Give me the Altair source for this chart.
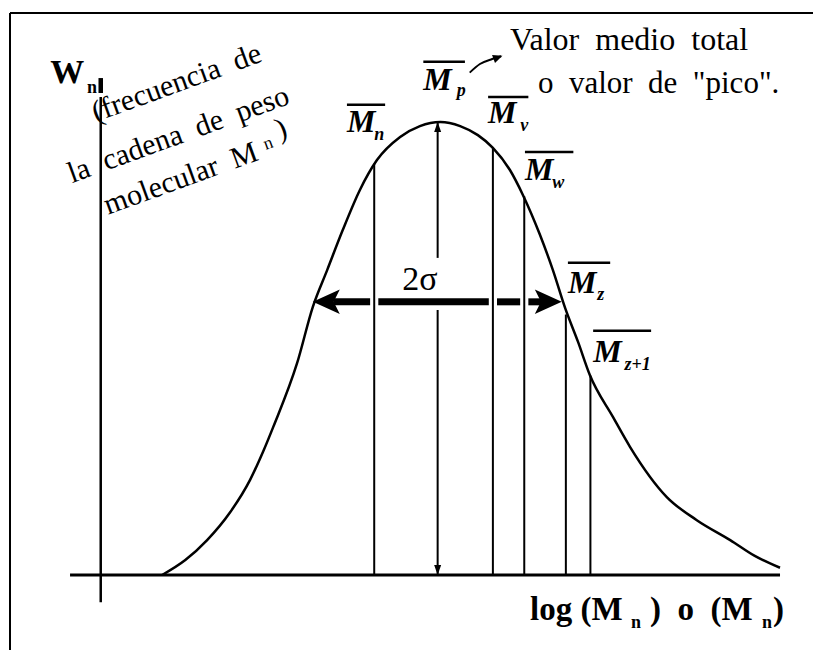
import altair as alt
import pandas as pd

# Weight-fraction distribution W_n against log(M_n); peak normalised to 100
log_m = [0.94, 1.28, 1.60, 1.94, 2.23, 2.42, 2.57, 2.92, 3.15, 3.36,
         3.59, 3.84, 4.09, 4.43, 4.72, 5.02, 5.31, 5.57, 5.79, 6.04,
         6.23, 6.48, 6.67, 6.85, 7.04, 7.21, 7.55, 7.80, 8.34, 8.78,
         9.27, 9.63, 10.00]
w_frac = [0.0, 3.3, 7.7, 13.9, 21.0, 27.2, 32.7, 46.8, 59.2, 67.3,
          76.2, 85.0, 91.6, 96.7, 99.1, 100.0, 99.1, 97.1, 94.3, 89.4,
          83.9, 75.1, 67.3, 58.9, 51.4, 44.2, 34.9, 28.3, 17.2, 12.1,
          7.7, 4.2, 1.6]

# Molecular-weight averages: position on the log(M) axis and curve height there
avg_names = ["Mn", "Mp", "Mv", "Mw", "Mz", "Mz+1"]
avg_x = [4.05, 4.98, 5.79, 6.25, 6.86, 7.22]
avg_w = [90.8, 100.0, 94.3, 83.6, 57.5, 44.0]

# Labels of the averages: bold italic M, subscript, overline
lab_sub = ["n", "p", "v", "w", "z", "z+1"]
lab_x = [3.65, 4.77, 5.72, 6.26, 6.89, 7.26]
lab_w = [97.8, 107.1, 99.8, 87.2, 62.3, 47.0]
sub_x = [4.05, 5.26, 6.19, 6.66, 7.32, 7.72]
sub_w = [96.0, 105.7, 98.0, 85.4, 60.7, 45.3]
bar_x2 = [4.21, 5.38, 6.31, 6.97, 7.51, 8.11]
bar_w = [103.8, 113.3, 105.5, 93.4, 68.9, 53.9]

# 2-sigma spread of the distribution
sigma_left, sigma_right, sigma_w = 3.15, 6.80, 60.3
# the Mp line is interrupted around the 2-sigma label
mp_gap = (58.5, 70.0)

# Axes of the diagram
x_axis_from, x_axis_to = -0.41, 10.0
y_axis_x, y_axis_from, y_axis_to = 0.04, -6.0, 109.7

FONT = "Liberation Serif"
NB = "\u00a0"

X = alt.Scale(domain=[-1.437, 10.513], nice=False, zero=False)
Y = alt.Scale(domain=[-16.56, 126.93], nice=False, zero=False)


def xq(f):
    return alt.X(f, type="quantitative", scale=X, axis=None)


def yq(f):
    return alt.Y(f, type="quantitative", scale=Y, axis=None)


# distribution curve
curve = alt.Chart(pd.DataFrame({"x": log_m, "w": w_frac})).mark_line(
    color="black", strokeWidth=2.5, interpolate="monotone"
).encode(x=xq("x"), y=yq("w"))

# vertical lines at each average (Mp drawn in two pieces)
seg_rows = []
for name, x, w in zip(avg_names, avg_x, avg_w):
    if name == "Mp":
        seg_rows.append({"x": x, "y": 0.0, "y2": mp_gap[0]})
        seg_rows.append({"x": x, "y": mp_gap[1], "y2": w})
    else:
        seg_rows.append({"x": x, "y": 0.0, "y2": w})
avg_lines = alt.Chart(pd.DataFrame(seg_rows)).mark_rule(
    color="black", strokeWidth=2
).encode(x=xq("x"), y=yq("y"), y2="y2")

# axes
x_axis = alt.Chart(pd.DataFrame({"x": [x_axis_from], "x2": [x_axis_to], "y": [0.0]})).mark_rule(
    color="black", strokeWidth=3
).encode(x=xq("x"), x2="x2", y=yq("y"))
y_axis = alt.Chart(pd.DataFrame({"x": [y_axis_x, y_axis_x], "y": [y_axis_from, 106.4],
                                 "y2": [105.5, y_axis_to], "sw": [2.5, 4.5]})).mark_rule(
    color="black"
).encode(x=xq("x"), y=yq("y"), y2="y2", strokeWidth=alt.StrokeWidth("sw:Q", scale=None))

# 2-sigma double arrow: shaft broken where it crosses Mn, Mv and Mw
head_len = 0.30
breaks = sorted([avg_x[0], avg_x[2], avg_x[3]])
shaft_rows = []
start = sigma_left + head_len
for b in breaks:
    shaft_rows.append({"x": start, "x2": b - 0.06, "y": sigma_w})
    start = b + 0.06
shaft_rows.append({"x": start, "x2": sigma_right - head_len, "y": sigma_w})
shaft = alt.Chart(pd.DataFrame(shaft_rows)).mark_rule(
    color="black", strokeWidth=7
).encode(x=xq("x"), x2="x2", y=yq("y"))

# arrow heads (tip of each path sits at the data point)
heads = pd.DataFrame([
    {"x": sigma_left, "y": sigma_w, "shape": "M0,0 L2.2,-1 L1.7,0 L2.2,1 Z", "size": 600, "angle": 0},
    {"x": sigma_right, "y": sigma_w, "shape": "M0,0 L-2.2,-1 L-1.7,0 L-2.2,1 Z", "size": 600, "angle": 0},
    {"x": avg_x[1], "y": 0.0, "shape": "M0,0 L-0.7,-2 L0.7,-2 Z", "size": 100, "angle": 0},
    {"x": avg_x[1], "y": avg_w[1], "shape": "M0,0 L-0.7,2 L0.7,2 Z", "size": 100, "angle": 0},
    {"x": 5.93, "y": 114.6, "shape": "M0,0 L-2,-0.9 L-2,0.9 Z", "size": 90, "angle": 340},
])
arrow_heads = alt.Chart(heads).mark_point(filled=True, color="black", opacity=1, strokeWidth=0).encode(
    x=xq("x"), y=yq("y"),
    shape=alt.Shape("shape:N", scale=None),
    size=alt.Size("size:Q", scale=None),
    angle=alt.Angle("angle:Q", scale=None),
)

# curved pointer from Mp to its description
pointer = alt.Chart(pd.DataFrame({"x": [5.45, 5.60, 5.78, 5.91], "y": [110.9, 112.8, 113.9, 114.5]})).mark_line(
    color="black", strokeWidth=2, interpolate="monotone"
).encode(x=xq("x"), y=yq("y"))

# overlines of the average labels
overlines = alt.Chart(pd.DataFrame({"x": lab_x, "x2": bar_x2, "y": bar_w})).mark_rule(
    color="black", strokeWidth=2.5
).encode(x=xq("x"), x2="x2", y=yq("y"))


def text_layer(df, size, weight="normal", style="normal", angle=0):
    return alt.Chart(df).mark_text(
        font=FONT, fontSize=size, fontWeight=weight, fontStyle=style,
        align="left", baseline="alphabetic", angle=angle, color="black"
    ).encode(x=xq("x"), y=yq("y"), text=alt.Text("t:N"))


m_labels = text_layer(pd.DataFrame({"x": lab_x, "y": lab_w, "t": ["M"] * 6}), 32, "bold", "italic")
m_subs = text_layer(pd.DataFrame({"x": sub_x, "y": sub_w, "t": lab_sub}), 18, "bold", "italic")

line1 = text_layer(pd.DataFrame({
    "x": [6.04], "y": [115.9], "t": [f"Valor {NB}medio {NB}total"],
}), 32)
line2 = text_layer(pd.DataFrame({
    "x": [6.45], "y": [106.4], "t": [f"o {NB}valor {NB}de {NB}\"pico\"."],
}), 31)
sigma_text = text_layer(pd.DataFrame({"x": [4.46], "y": [62.9], "t": ["2σ"]}), 34)

w_title = text_layer(pd.DataFrame({"x": [-0.70], "y": [108.6], "t": ["W"]}), 34, "bold")
w_sub = text_layer(pd.DataFrame({"x": [-0.16], "y": [106.3], "t": ["n"]}), 18, "bold")

x_title = text_layer(pd.DataFrame({
    "x": [6.334, 8.094, 9.897],
    "y": [-9.93, -9.93, -9.93],
    "t": ["log (M", f") {NB}o {NB}(M", ")"],
}), 33, "bold")
x_subs = text_layer(pd.DataFrame({"x": [7.815, 9.736], "y": [-11.7, -11.7], "t": ["n", "n"]}), 18, "bold")

y_note = text_layer(pd.DataFrame({
    "x": [-0.03, -0.381, 0.147, 2.66],
    "y": [100.0, 86.5, 79.5, 96.2],
    "t": [f"(frecuencia {NB}de", f"la {NB}cadena {NB}de {NB}peso", f"molecular {NB}M", ")"],
}), 30, angle=340)
y_note_sub = text_layer(pd.DataFrame({"x": [2.46], "y": [93.8], "t": ["n"]}), 18, angle=340)

# frame of the figure
frame_left = alt.Chart(pd.DataFrame({"a": [0]})).mark_rule(color="black", strokeWidth=2).encode(
    x=alt.value(10), y=alt.value(13), y2=alt.value(650))
frame_top = alt.Chart(pd.DataFrame({"a": [0]})).mark_rule(color="black", strokeWidth=2).encode(
    x=alt.value(10), x2=alt.value(813), y=alt.value(13))

chart = alt.layer(
    frame_left, frame_top, x_axis, y_axis, avg_lines, curve, shaft, arrow_heads, pointer,
    overlines, m_labels, m_subs, line1, line2, sigma_text, w_title, w_sub, x_title, x_subs,
    y_note, y_note_sub,
).properties(
    width=815, height=650, padding=0, autosize=alt.AutoSizeParams(type="none"),
    background="white",
).configure_view(stroke=None)

chart.save("out.html", embed_options={"renderer": "svg", "actions": False})
